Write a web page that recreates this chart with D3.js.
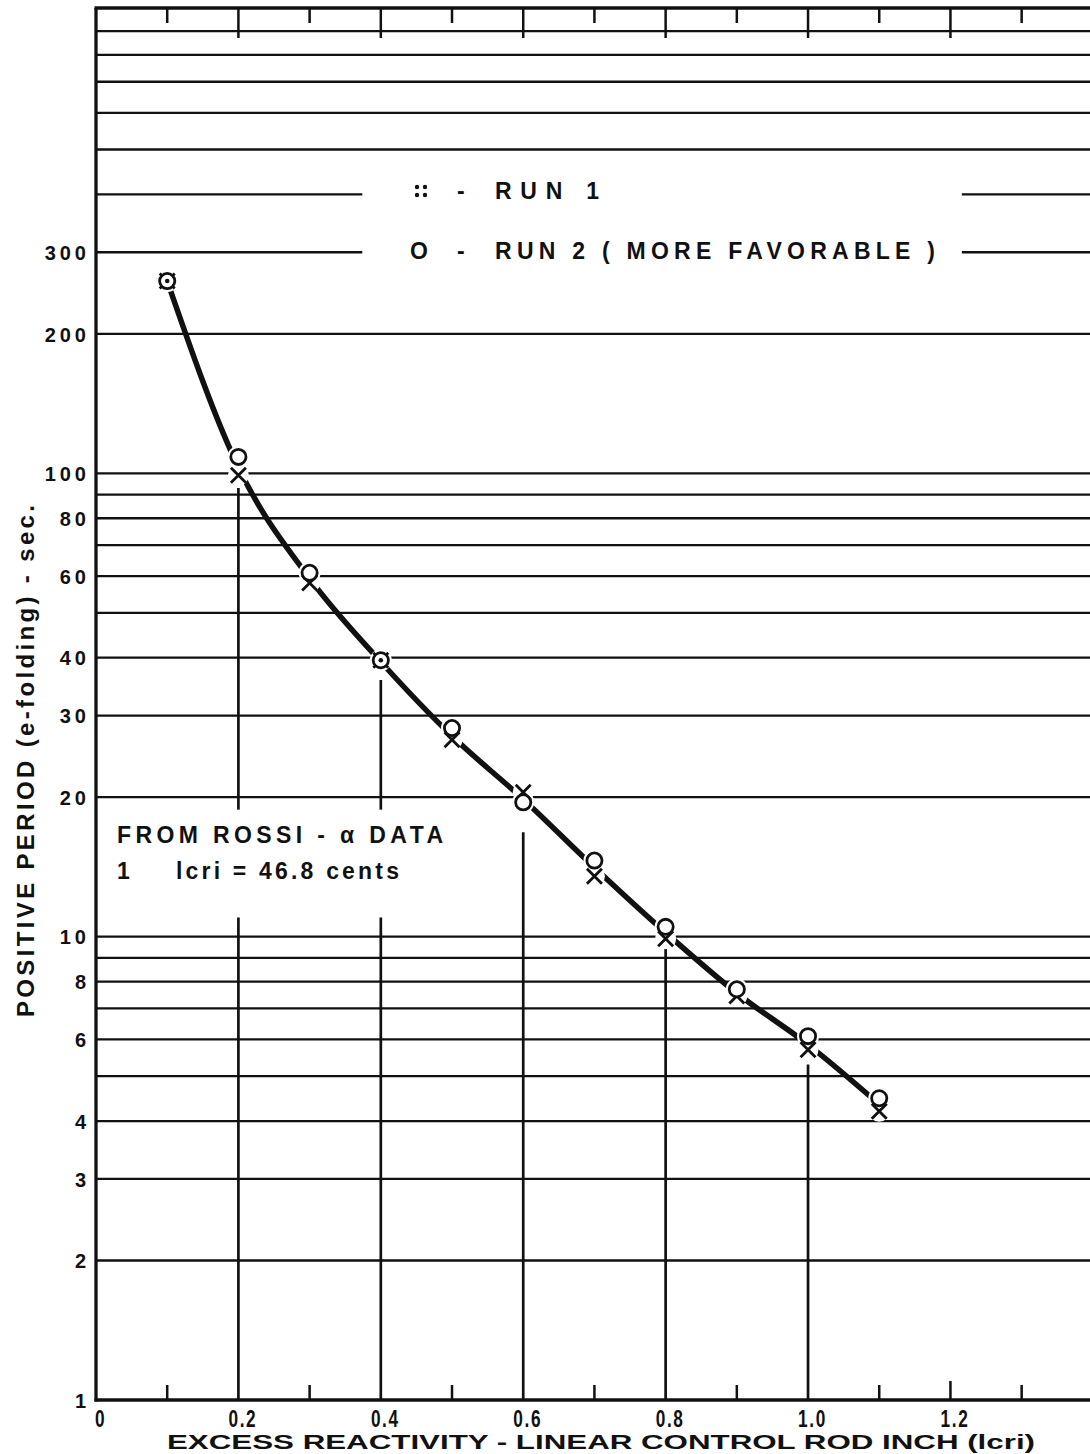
<!DOCTYPE html>
<html><head><meta charset="utf-8">
<script src="https://cdn.jsdelivr.net/npm/d3@7"></script>
<style>
body{margin:0;background:#fff}
svg{display:block;background:#fff}
text{font-family:"Liberation Sans",Arial,sans-serif;fill:#111}
</style>
</head><body>
<svg id="chart" width="1090" height="1454"></svg>
<script>
// ---------- data ----------
const xValues   = [0.1, 0.2, 0.3, 0.4, 0.5, 0.6, 0.7, 0.8, 0.9, 1.0, 1.1];
const run1      = [260, 99, 58, 39.5, 26.6, 20.5, 13.5, 9.9, 7.45, 5.7, 4.2];   // x markers
const run2      = [260, 108.5, 61, 39.5, 28.2, 19.5, 14.6, 10.5, 7.7, 6.1, 4.48]; // o markers
const curveValues = [260, 103, 59.3, 39.2, 27.1, 19.8, 14.1, 10.2, 7.55, 5.85, 4.35];
const gridValues  = [2,3,4,5,6,7,8,9,10,20,30,40,50,60,70,80,90,100,200,300,400,500,600,700,800,900];
const yTickValues = [1,2,3,4,6,8,10,20,30,40,60,80,100,200,300];
const xTickValues = [0,0.2,0.4,0.6,0.8,1.0,1.2];
const xTickLabels = ["0","0.2","0.4","0.6","0.8","1.0","1.2"];
const minorTicks  = [0.1,0.2,0.3,0.4,0.5,0.6,0.7,0.8,0.9,1.0,1.1,1.2,1.3];
const verticalX   = [0.2, 0.4, 0.6, 0.8, 1.0];
const verticalTop = [93, 35.8, 16.8, 9.55, 5.3];
const legendLineValues = [400, 300];
const legendGapX  = [0.374, 1.216];
const noteGapY    = [11, 18.8];
const noteGapX    = [0.005, 0.48];

// ---------- scales ----------
const svg = d3.select("#chart");
const W = 1090, H = 1454;
const x = d3.scaleLinear().domain([0, 1.396]).range([96, 1090]);
const y = d3.scaleLog().domain([1, 1000]).range([1400, 10]);
const X0 = x(0), YB = y(1), YT = y(1000);

svg.append("rect").attr("width", W).attr("height", H).attr("fill", "#fff");

// ---------- horizontal grid ----------
const g = svg.append("g").attr("stroke", "#111").attr("stroke-width", 2.3);
gridValues.forEach(v => {
  if (legendLineValues.includes(v)) {
    g.append("line").attr("x1", X0).attr("x2", x(legendGapX[0])).attr("y1", y(v)).attr("y2", y(v));
    g.append("line").attr("x1", x(legendGapX[1])).attr("x2", W).attr("y1", y(v)).attr("y2", y(v));
  } else {
    g.append("line").attr("x1", X0).attr("x2", W).attr("y1", y(v)).attr("y2", y(v));
  }
});

// ---------- vertical partial lines ----------
const vg = svg.append("g").attr("stroke", "#111").attr("stroke-width", 2.7);
verticalX.forEach((xv, i) => {
  vg.append("line").attr("x1", x(xv)).attr("x2", x(xv)).attr("y1", y(verticalTop[i])).attr("y2", YB);
});
svg.append("rect")
  .attr("x", x(noteGapX[0])).attr("width", x(noteGapX[1]) - x(noteGapX[0]))
  .attr("y", y(noteGapY[1])).attr("height", y(noteGapY[0]) - y(noteGapY[1]))
  .attr("fill", "#fff");

// ---------- fitted curve ----------
const curvePts = xValues.map((xv, i) => [x(xv), y(curveValues[i])]);
svg.append("path")
  .attr("d", d3.line().curve(d3.curveMonotoneX)(curvePts))
  .attr("fill", "none").attr("stroke", "#111").attr("stroke-width", 5.5)
  .attr("stroke-linecap", "butt");

// ---------- knockouts around markers ----------
const ko = svg.append("g").attr("fill", "#fff");
xValues.forEach((xv, i) => {
  ko.append("circle").attr("cx", x(xv)).attr("cy", y(run1[i])).attr("r", 10.5);
  ko.append("circle").attr("cx", x(xv)).attr("cy", y(run2[i])).attr("r", 11);
});

// ---------- markers ----------
const mk = svg.append("g").attr("stroke", "#111").attr("stroke-width", 2.8).attr("fill", "none");
const s = 7.5;
xValues.forEach((xv, i) => {
  const cx = x(xv), cy = y(run1[i]);
  mk.append("path").attr("d", `M${cx - s},${cy - s}L${cx + s},${cy + s}M${cx + s},${cy - s}L${cx - s},${cy + s}`);
});
xValues.forEach((xv, i) => {
  mk.append("circle").attr("cx", x(xv)).attr("cy", y(run2[i])).attr("r", 7.6).attr("fill", "#fff");
  if (Math.abs(y(run1[i]) - y(run2[i])) < 2) {
    svg.append("circle").attr("cx", x(xv)).attr("cy", y(run2[i])).attr("r", 2.3).attr("fill", "#111");
  }
});

// ---------- frame & ticks ----------
const fr = svg.append("g").attr("stroke", "#111").attr("stroke-width", 3.3);
fr.append("line").attr("x1", X0).attr("x2", X0).attr("y1", YT - 2).attr("y2", YB + 1.5);
fr.append("line").attr("x1", X0 - 1.5).attr("x2", W).attr("y1", YT - 2).attr("y2", YT - 2);
fr.append("line").attr("x1", X0 - 1.5).attr("x2", W).attr("y1", YB).attr("y2", YB);
const tk = svg.append("g").attr("stroke", "#111").attr("stroke-width", 2.5);
minorTicks.forEach(t => {
  const even = Math.round(t * 10) % 2 === 0;
  tk.append("line").attr("x1", x(t)).attr("x2", x(t)).attr("y1", YT - 2).attr("y2", YT - 2 + (even ? 30 : 15));
  if (!verticalX.some(v => Math.abs(v - t) < 1e-9)) {
    const big = Math.abs(t - 1.2) < 1e-9;
    tk.append("line").attr("x1", x(t)).attr("x2", x(t)).attr("y1", YB).attr("y2", YB - (big ? 19 : 15));
  }
});

// ---------- axes labels ----------
const yAxis = svg.append("g").attr("transform", `translate(${X0},0)`)
  .call(d3.axisLeft(y).tickValues(yTickValues).tickFormat(d => String(d)).tickSize(0).tickPadding(6));
yAxis.select(".domain").remove();
yAxis.selectAll("text")
  .attr("font-family", "'Liberation Sans', Arial, sans-serif")
  .style("font-size", "20px").style("font-weight", "bold").style("letter-spacing", "4px")
  .attr("dy", "0.36em")
  .attr("fill", "#111");

const xAxis = svg.append("g").attr("transform", `translate(0,${YB})`)
  .call(d3.axisBottom(x).tickValues(xTickValues).tickFormat((d, i) => xTickLabels[i]).tickSize(0).tickPadding(10));
xAxis.select(".domain").remove();
xAxis.selectAll("text")
  .attr("font-family", "'Liberation Sans', Arial, sans-serif")
  .style("font-size", "21px").style("font-weight", "bold").style("letter-spacing", "2px")
  .attr("transform", "translate(4,0) scale(0.82,1.1)")
  .attr("fill", "#111");

// axis titles
svg.append("text")
  .attr("x", 167).attr("y", 1449)
  .attr("textLength", 868).attr("lengthAdjust", "spacingAndGlyphs")
  .style("font-size", "21px").style("font-weight", "bold")
  .text("EXCESS  REACTIVITY - LINEAR  CONTROL  ROD  INCH  (lcri)");

svg.append("text")
  .attr("transform", "translate(34,1017) rotate(-90)")
  .attr("x", 0).attr("y", 0)
  .attr("textLength", 512).attr("lengthAdjust", "spacing")
  .style("font-size", "24px").style("font-weight", "bold")
  .text("POSITIVE  PERIOD  (e-folding) - sec.");

// ---------- legend ----------
const lg = svg.append("g").style("font-size", "23px").style("font-weight", "bold");
const ly1 = 191, ly2 = 251;
[[-4,-4],[4,-4],[-4,4],[4,4]].forEach(([dx,dy]) => {
  svg.append("circle").attr("cx", 421 + dx).attr("cy", ly1 + dy).attr("r", 2.2).attr("fill", "#111");
});
lg.append("text").attr("x", 457).attr("y", ly1).attr("dy", "0.36em").text("-");
lg.append("text").attr("x", 495).attr("y", ly1).attr("dy", "0.36em")
  .attr("textLength", 104).attr("lengthAdjust", "spacing").text("RUN  1");
lg.append("text").attr("x", 410).attr("y", ly2).attr("dy", "0.36em").text("O");
lg.append("text").attr("x", 457).attr("y", ly2).attr("dy", "0.36em").text("-");
lg.append("text").attr("x", 495).attr("y", ly2).attr("dy", "0.36em")
  .attr("textLength", 440).attr("lengthAdjust", "spacing").text("RUN  2 ( MORE  FAVORABLE )");

// ---------- note ----------
const nt = svg.append("g").style("font-size", "23px").style("font-weight", "bold");
nt.append("text").attr("x", 117).attr("y", 835).attr("dy", "0.36em")
  .attr("textLength", 326).attr("lengthAdjust", "spacing").text("FROM  ROSSI  -  α DATA");
nt.append("text").attr("x", 117).attr("y", 871).attr("dy", "0.36em").text("1");
nt.append("text").attr("x", 176).attr("y", 871).attr("dy", "0.36em")
  .attr("textLength", 223).attr("lengthAdjust", "spacing").text("lcri = 46.8 cents");
</script>
</body></html>
